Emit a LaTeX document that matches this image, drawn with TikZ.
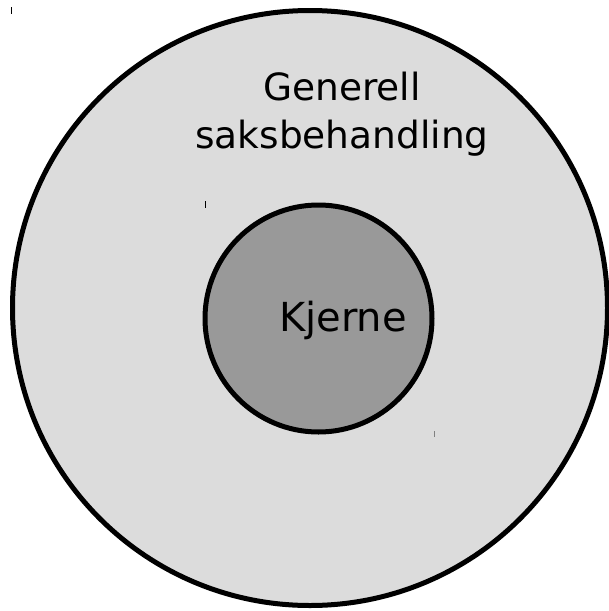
\documentclass[tikz,border=0pt]{standalone}
\usepackage{fontspec}
\setmainfont{DejaVu Sans}
\usetikzlibrary{positioning}
\definecolor{lysgraa}{HTML}{DCDCDC}
\definecolor{mørkgraa}{HTML}{999999}

\begin{document}
\begin{tikzpicture}[x=1pt,y=-1pt,
          ring/.style={circle,draw=black,line width=5pt,inner sep=0pt},
          etikett/.style={black,align=center,font=\fontsize{37.5}{48}\selectfont,inner sep=0pt},
          merke/.style={line width=1pt}]
        \useasboundingbox (0,0) rectangle (609,611);
        \node[ring,fill=lysgraa,minimum size=595pt] (ytre) at (310,308) {};
        \node[ring,fill=mørkgraa,minimum size=227pt] (kjerne) at (318.5,318.5) {};
        \node[etikett] (generell) at (342,114) {Generell\\saksbehandling};
        \node[etikett,font=\fontsize{40}{48}\selectfont] (kjernetekst) at (343,320) {Kjerne};
        % små merker
        \draw[merke] (11,7) -- (11,14);
        \draw[merke] (205,201) -- (205,208);
        \draw[merke,gray] (434,431) -- (434,437);
      \end{tikzpicture}
\end{document}
